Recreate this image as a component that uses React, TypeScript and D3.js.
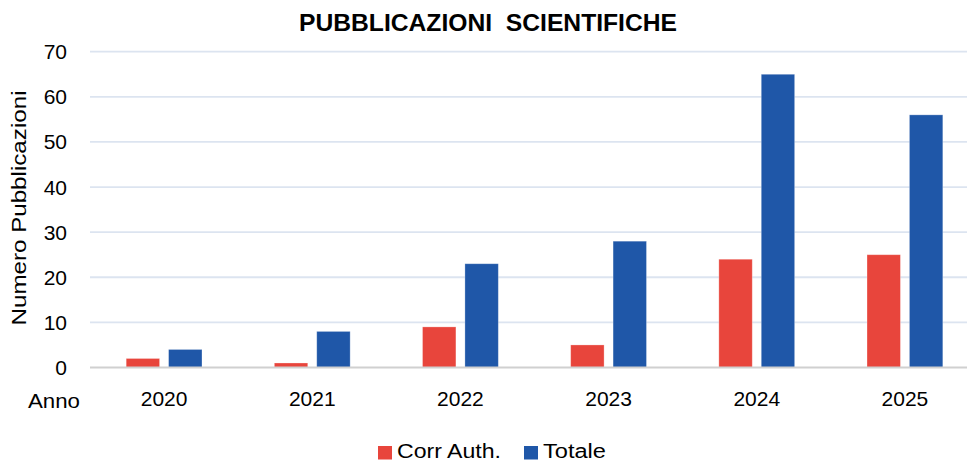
import React from "react";
import * as d3 from "d3";

const years = ["2020", "2021", "2022", "2023", "2024", "2025"];
const corrAuth = [2, 1, 9, 5, 24, 25];
const totale = [4, 8, 23, 28, 65, 56];
const yTicks = [0, 10, 20, 30, 40, 50, 60, 70];
const seriesNames = ["Corr Auth.", "Totale"];
const seriesColors = ["#E8453C", "#1F57A8"];

const W = 967;
const H = 461;
const FONT = "'Liberation Sans', Arial, sans-serif";

export default function App() {
  const x = d3.scaleBand<string>().domain(years).range([90, 979]).paddingInner(0).paddingOuter(0);
  const y = d3.scaleLinear().domain([0, 70]).range([367.5, 51.7]);
  const barW = 33.4;
  const gap = 9;
  const series = [corrAuth, totale];

  return (
    <svg width={W} height={H} style={{ position: "absolute", left: 0, top: 0, background: "#fff" }}>
      <text x={488} y={30.5} textAnchor="middle" fontFamily={FONT} fontWeight="bold" fontSize={24}
        textLength={378} lengthAdjust="spacingAndGlyphs" fill="#000" style={{ whiteSpace: "pre" }}>PUBBLICAZIONI  SCIENTIFICHE</text>
      {yTicks.map((t) => (
        <g key={t}>
          {t !== 0 && (
            <line x1={90} x2={W} y1={y(t)} y2={y(t)} stroke="#DCE4F0" strokeWidth={1.8} />
          )}
          <text x={67} y={y(t) + 7.5} textAnchor="end" fontFamily={FONT} fontSize={21} fill="#000">{t}</text>
        </g>
      ))}
      {years.map((yr, i) => {
        const cx = (x(yr) as number) + x.bandwidth() / 2;
        return (
          <g key={yr}>
            {series.map((s, k) => {
              const left = k === 0 ? cx - gap / 2 - barW : cx + gap / 2;
              return (
                <rect key={k} x={left} y={y(s[i])} width={barW} height={y(0) - y(s[i])}
                  fill={seriesColors[k]} stroke="#ffffff" strokeOpacity={0.35} strokeWidth={0.8} />
              );
            })}
            <text x={cx} y={406} textAnchor="middle" fontFamily={FONT} fontSize={21} fill="#000">{yr}</text>
          </g>
        );
      })}
      <line x1={90} x2={W} y1={y(0)} y2={y(0)} stroke="#D0D0D0" strokeWidth={2} />
      <text x={28} y={408} fontFamily={FONT} fontSize={21} fill="#000" textLength={52} lengthAdjust="spacingAndGlyphs">Anno</text>
      <text transform="translate(26,208) rotate(-90)" textAnchor="middle" fontFamily={FONT} fontSize={20} fill="#000"
        textLength={235} lengthAdjust="spacingAndGlyphs">Numero Pubblicazioni</text>
      {seriesNames.map((n, k) => {
        const sx = k === 0 ? 378 : 524;
        const tl = k === 0 ? 104 : 63;
        return (
          <g key={n}>
            <rect x={sx} y={446} width={14} height={13.5} fill={seriesColors[k]} />
            <text x={sx + 19} y={458} fontFamily={FONT} fontSize={20} fill="#000" textLength={tl} lengthAdjust="spacingAndGlyphs">{n}</text>
          </g>
        );
      })}
    </svg>
  );
}
